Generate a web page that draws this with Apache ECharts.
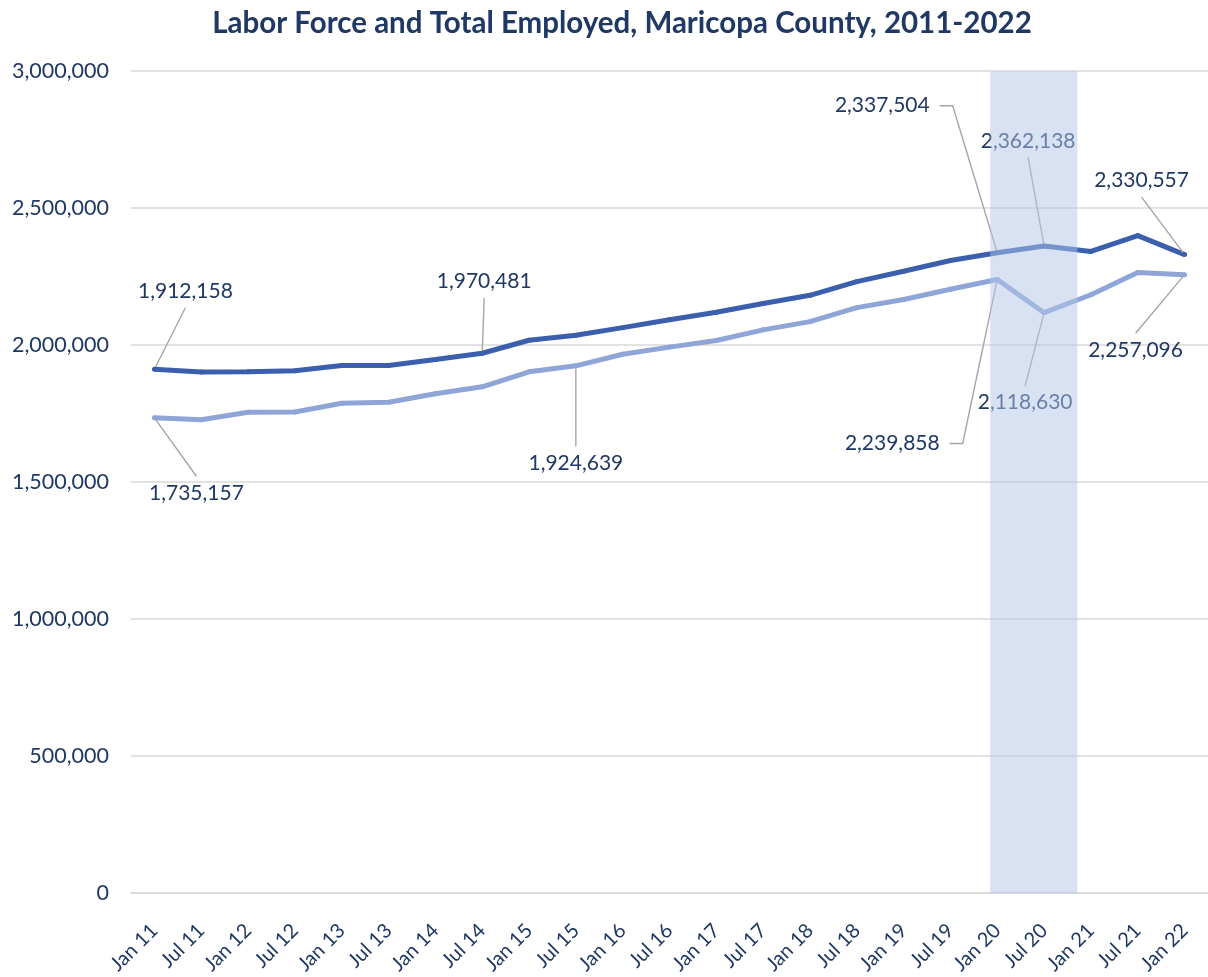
<!DOCTYPE html>
<html>
<head>
<meta charset="utf-8">
<script src="https://cdn.jsdelivr.net/npm/echarts@6/dist/echarts.min.js"></script>
<style>
html,body{margin:0;padding:0;background:#fff;}
#chart{width:1208px;height:977px;}
</style>
</head>
<body>
<div id="chart"></div>
<script>
const categories = ['Jan 11','Jul 11','Jan 12','Jul 12','Jan 13','Jul 13','Jan 14','Jul 14','Jan 15','Jul 15','Jan 16','Jul 16','Jan 17','Jul 17','Jan 18','Jul 18','Jan 19','Jul 19','Jan 20','Jul 20','Jan 21','Jul 21','Jan 22'];
const laborForce = [1912158, 1902000, 1903000, 1907000, 1926000, 1926000, 1948000, 1970481, 2018000, 2036000, 2064000, 2093000, 2120000, 2152000, 2182000, 2232000, 2270000, 2309000, 2337504, 2362138, 2342000, 2400000, 2330557];
const employed = [1735157, 1728000, 1755000, 1756000, 1788000, 1792000, 1823000, 1848000, 1903000, 1924639, 1967000, 1993000, 2017000, 2056000, 2086000, 2137000, 2167000, 2204000, 2239858, 2118630, 2184000, 2265000, 2257096];
const laborLabeled = [0, 7, 18, 19, 22];
const employedLabeled = [0, 9, 18, 19, 22];
const yTicks = [0, 500000, 1000000, 1500000, 2000000, 2500000, 3000000];
const shadedPeriod = [17.85, 19.71]; // in category-index units

// label placement (styling): offset of label centre from its point, and leader attachment side
const labelOffsets = [
  {0: [31, -78], 7: [2, -72], 18: [-115, -147], 19: [-16, -105], 22: [-43, -74]},
  {0: [42, 75], 9: [0, 97], 18: [-105, 164], 19: [-19, 90], 22: [-49, 75]}
];
const sideLeader = {18: true};

const navy = '#1f3864';
const fmt = v => Math.round(v).toString().replace(/\B(?=(\d{3})+(?!\d))/g, ',');

function buildData(values, labeled) {
  return values.map((v, i) => {
    if (labeled.indexOf(i) >= 0) {
      const side = !!sideLeader[i];
      return {
        value: v,
        label: {show: true, padding: side ? [0, 10] : [4, 50]},
        labelLine: {show: true, length2: side ? 13 : 0}
      };
    }
    return v;
  });
}

const labelCommon = {
  show: false,
  formatter: p => fmt(p.value),
  color: navy,
  fontSize: 21,
  lineHeight: 25,
  backgroundColor: 'rgba(255,255,255,0)',
  fontFamily: 'Lato'
};
const labelLineCommon = {show: true, length2: 0, minTurnAngle: 0, lineStyle: {color: '#a6a6a6', width: 1.4}};

const chart = echarts.init(document.getElementById('chart'));
chart.setOption({
  animation: false,
  backgroundColor: '#fff',
  title: {
    text: 'Labor Force and Total Employed, Maricopa County, 2011-2022',
    left: 617,
    top: 3,
    textAlign: 'center',
    textStyle: {fontFamily: 'Lato', fontWeight: 'bold', fontSize: 29.5, color: navy}
  },
  grid: {left: 131, top: 71.2, right: -5, height: 823, containLabel: false},
  xAxis: [{
    type: 'category',
    data: categories,
    boundaryGap: true,
    axisTick: {show: false},
    axisLine: {lineStyle: {color: '#d9d9d9', width: 1.5}},
    axisLabel: {rotate: 45, interval: 0, fontSize: 20, fontFamily: 'Lato', color: navy, margin: 34}
  }, {
    type: 'value',
    show: false,
    min: -0.5,
    max: categories.length - 0.5
  }],
  yAxis: {
    type: 'value',
    min: yTicks[0],
    max: yTicks[yTicks.length - 1],
    interval: yTicks[1] - yTicks[0],
    axisLine: {show: false},
    axisTick: {show: false},
    splitLine: {lineStyle: {color: '#d9d9d9', width: 1.5}},
    axisLabel: {formatter: v => fmt(v), color: navy, fontSize: 21.5, fontFamily: 'Lato', margin: 22}
  },
  series: [{
    name: 'Labor Force',
    type: 'line',
    data: buildData(laborForce, laborLabeled),
    symbol: 'circle',
    symbolSize: 5,
    showAllSymbol: true,
    z: 3,
    lineStyle: {color: '#3b5fad', width: 5},
    itemStyle: {color: '#3b5fad'},
    label: labelCommon,
    labelLine: labelLineCommon,
    emphasis: {disabled: true}
  }, {
    name: 'Employed',
    type: 'line',
    data: buildData(employed, employedLabeled),
    symbol: 'circle',
    symbolSize: 5,
    showAllSymbol: true,
    z: 2,
    lineStyle: {color: '#8fa5d8', width: 5},
    itemStyle: {color: '#8fa5d8'},
    label: labelCommon,
    labelLine: labelLineCommon,
    emphasis: {disabled: true}
  }, {
    name: 'band',
    type: 'line',
    xAxisIndex: 1,
    data: [],
    z: 10,
    markArea: {
      silent: true,
      z: 10,
      itemStyle: {color: 'rgba(178,197,231,0.5)'},
      data: [[{xAxis: shadedPeriod[0]}, {xAxis: shadedPeriod[1]}]]
    }
  }],
  labelLayout: function (params) {
    const offs = labelOffsets[params.seriesIndex];
    if (!offs) return;
    const off = offs[params.dataIndex];
    if (!off) return;
    const cx = params.rect.x + params.rect.width / 2;
    const cy = params.rect.y + params.rect.height / 2;
    return {x: cx + off[0], y: cy + off[1], align: 'center', verticalAlign: 'middle'};
  }
});
</script>
</body>
</html>
